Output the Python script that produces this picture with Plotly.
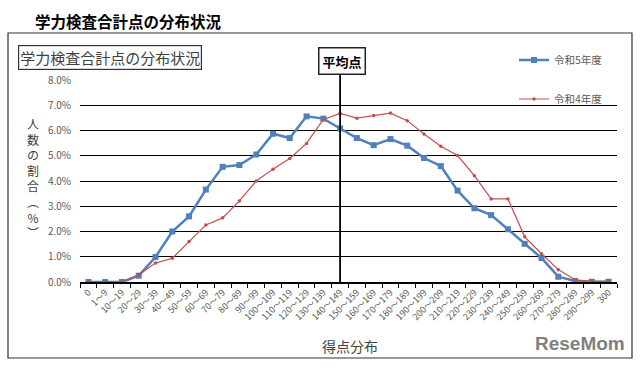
import plotly.graph_objects as go

# ---------------- data ----------------
categories = ["0", "1～9"] + [f"{i}～{i+9}" for i in range(10, 300, 10)] + ["300"]
r5_values = [0.00, 0.00, 0.00, 0.25, 0.99, 2.00, 2.60, 3.66, 4.56, 4.63,
             5.05, 5.87, 5.70, 6.56, 6.47, 6.08, 5.70, 5.42, 5.66, 5.40,
             4.91, 4.59, 3.62, 2.92, 2.65, 2.09, 1.51, 0.95, 0.21, 0.04,
             0.01, 0.01]
r4_values = [0.00, 0.00, 0.00, 0.29, 0.75, 0.94, 1.60, 2.26, 2.54, 3.21,
             4.00, 4.47, 4.89, 5.49, 6.44, 6.68, 6.49, 6.59, 6.69, 6.39,
             5.86, 5.38, 5.01, 4.21, 3.29, 3.29, 1.79, 1.12, 0.49, 0.09,
             0.03, 0.03]
series_names = ["令和5年度", "令和4年度"]
average_category = "140～149"
y_ticks = [0, 1, 2, 3, 4, 5, 6, 7, 8]

# ---------------- layout helpers ----------------
W, H = 640, 369
L, R, T, B = 80, 23, 80, 87
PW, PH = W - L - R, H - T - B

def px(xp):
    return (xp - L) / PW

def py(yp):
    return (H - B - yp) / PH

JP = "Noto Sans CJK JP"
GRAY = "#595959"

fig = go.Figure()
fig.add_trace(go.Scatter(
    x=categories, y=[v / 100 for v in r5_values], name=series_names[0],
    mode="lines+markers", line=dict(color="#4F81BD", width=2.5),
    marker=dict(symbol="square", size=6, color="#4F81BD"), legend="legend"))
fig.add_trace(go.Scatter(
    x=categories, y=[v / 100 for v in r4_values], name=series_names[1],
    mode="lines+markers", line=dict(color="#C0504D", width=1.2),
    marker=dict(symbol="circle", size=3.5, color="#C0504D"), legend="legend2"))

avg_idx = categories.index(average_category)

shapes = [
    # outer frame
    dict(type="rect", xref="paper", yref="paper", x0=px(8), x1=px(632), y0=py(358), y1=py(33),
         line=dict(color="#333333", width=1.2), layer="below"),
    # average line
    dict(type="line", xref="x", yref="paper", x0=avg_idx, x1=avg_idx, y0=0, y1=py(73),
         line=dict(color="black", width=1.8)),
]

annotations = [
    dict(text="<b>学力検査合計点の分布状況</b>", xref="paper", yref="paper", x=px(33), y=py(21),
         xanchor="left", yanchor="middle", showarrow=False, font=dict(family=JP, size=15.5, color="black")),
    dict(text="学力検査合計点の分布状況", xref="paper", yref="paper", x=px(110), y=py(58),
         xanchor="center", yanchor="middle", showarrow=False, font=dict(family=JP, size=15, color="#404040"),
         bordercolor="#333333", borderwidth=1.2, borderpad=1, bgcolor="white"),
    dict(text="<b>平均点</b>", xref="paper", yref="paper", x=px(342), y=py(61.5),
         xanchor="center", yanchor="middle", showarrow=False, font=dict(family=JP, size=13, color="black"),
         bordercolor="#222222", borderwidth=1.5, borderpad=3, bgcolor="white"),
    dict(text="得点分布", xref="paper", yref="paper", x=px(350), y=py(346),
         xanchor="center", yanchor="middle", showarrow=False, font=dict(family=JP, size=14, color="#404040")),
    dict(text="<b>ReseMom</b>", xref="paper", yref="paper", x=px(627), y=py(343),
         xanchor="right", yanchor="middle", showarrow=False,
         font=dict(family="Liberation Sans", size=19, color="#7f7f7f")),
    # vertical y-axis title (upright characters)
    dict(text="人<br>数<br>の<br>割<br>合<br>︵<br>%<br>︶", xref="paper", yref="paper",
         x=px(33), y=py(178), xanchor="center", yanchor="middle", showarrow=False,
         font=dict(family=JP, size=12, color="#404040")),
]

fig.update_layout(
    width=W, height=H, margin=dict(l=L, r=R, t=T, b=B),
    paper_bgcolor="white", plot_bgcolor="white",
    font=dict(family=JP, color=GRAY),
    shapes=shapes, annotations=annotations,
    legend=dict(x=px(514), y=py(60), xanchor="left", yanchor="middle", bgcolor="rgba(0,0,0,0)",
                font=dict(family=JP, size=10.5, color=GRAY), itemwidth=30),
    legend2=dict(x=px(514), y=py(99), xanchor="left", yanchor="middle", bgcolor="rgba(0,0,0,0)",
                 font=dict(family=JP, size=10.5, color=GRAY), itemwidth=30),
    showlegend=True,
)

fig.update_xaxes(
    type="category", categoryorder="array", categoryarray=categories,
    tickangle=-45, tickfont=dict(family=JP, size=9, color=GRAY),
    showline=True, linecolor="black", linewidth=1.5,
    ticks="outside", tickson="boundaries", ticklen=4, tickcolor="black",
    showgrid=False, zeroline=False, range=[-0.5, len(categories) - 0.5],
)
fig.update_yaxes(
    range=[0, 0.08], tickvals=[v / 100 for v in y_ticks], tickformat=".1%",
    tickfont=dict(family=JP, size=10, color=GRAY),
    showgrid=True, gridcolor="black", gridwidth=1.2,
    zeroline=False, showline=False, ticks="", ticklabelstandoff=8,
)

fig.write_html("out.html", config={"displayModeBar": False},
               post_script="document.body.style.margin='0';")
